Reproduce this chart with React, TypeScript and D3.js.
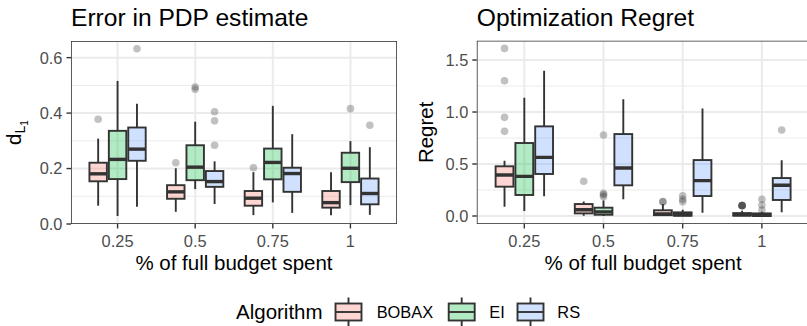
import React from "react";
import * as d3 from "d3";

// Budget levels (x categories) and algorithms (dodged groups)
const budgets = ["0.25", "0.5", "0.75", "1"];
const algorithms = ["BOBAX", "EI", "RS"];
const algColors = ["#F8766D", "#00BA38", "#619CFF"];

// Box summaries per budget: [lower whisker, Q1, median, Q3, upper whisker]
const pdpBOBAX = [
  [0.066, 0.154, 0.181, 0.221, 0.308],
  [0.044, 0.091, 0.116, 0.140, 0.201],
  [0.032, 0.066, 0.093, 0.119, 0.187],
  [0.032, 0.059, 0.077, 0.119, 0.187],
];
const pdpEI = [
  [0.029, 0.162, 0.233, 0.336, 0.516],
  [0.126, 0.158, 0.205, 0.284, 0.369],
  [0.078, 0.161, 0.222, 0.272, 0.426],
  [0.068, 0.151, 0.201, 0.257, 0.299],
];
const pdpRS = [
  [0.062, 0.228, 0.270, 0.348, 0.434],
  [0.072, 0.134, 0.153, 0.191, 0.226],
  [0.040, 0.116, 0.182, 0.203, 0.324],
  [0.033, 0.071, 0.110, 0.164, 0.277],
];
const pdpBOBAXOut = [[0.378], [0.221], [0.203], []];
const pdpEIOut = [[], [0.494, 0.486], [], [0.416]];
const pdpRSOut = [[0.632], [0.405, 0.372, 0.284], [], [0.356]];

const regretBOBAX = [
  [0.090, 0.282, 0.394, 0.478, 0.532],
  [0.003, 0.025, 0.060, 0.115, 0.140],
  [0.002, 0.008, 0.020, 0.055, 0.115],
  [0.000, 0.004, 0.012, 0.028, 0.050],
];
const regretEI = [
  [0.048, 0.202, 0.381, 0.702, 1.138],
  [0.000, 0.012, 0.040, 0.080, 0.150],
  [0.000, 0.003, 0.012, 0.035, 0.060],
  [0.000, 0.000, 0.006, 0.025, 0.040],
];
const regretRS = [
  [0.189, 0.404, 0.564, 0.862, 1.397],
  [0.161, 0.295, 0.462, 0.788, 1.122],
  [0.032, 0.192, 0.340, 0.538, 1.035],
  [0.036, 0.154, 0.295, 0.365, 0.535],
];
const regretBOBAXOut = [[1.612, 1.301, 0.949, 0.814], [0.334], [0.138, 0.136], [0.100, 0.101, 0.099, 0.102, 0.098]];
const regretEIOut = [[], [0.779, 0.218, 0.205, 0.186], [0.195, 0.160, 0.138], [0.161, 0.106, 0.058]];
const regretRSOut = [[], [], [], [0.827]];

const pdpTicks = [0, 0.2, 0.4, 0.6];
const pdpMinor = [0.1, 0.3, 0.5];
const regretTicks = [0, 0.5, 1.0, 1.5];
const regretMinor = [0.25, 0.75, 1.25];

const FONT = "'Liberation Sans', Arial, Helvetica, sans-serif";
const INK = "#333333";
const GRID = "#EBEBEB";
const TICK_TXT = "#4D4D4D";

type PanelProps = {
  x0: number;
  x1: number;
  y0: number;
  y1: number;
  domain: [number, number];
  ticks: number[];
  minor: number[];
  stats: number[][][];
  outliers: number[][][];
  title: string;
  yTitle: React.ReactNode;
  yTitleX: number;
};

function Panel(p: PanelProps) {
  const x = d3.scalePoint<string>().domain(budgets).range([p.x0, p.x1]).padding(0.6);
  const step = x.step();
  const y = d3.scaleLinear().domain(p.domain).range([p.y1, p.y0]);
  const dodge = d3
    .scalePoint<string>()
    .domain(algorithms)
    .range([-0.25 * step, 0.25 * step]);
  const bw = 0.225 * step;
  const fmt = d3.format(".1f");
  const clipId = `clip-${p.title.replace(/\s+/g, "")}`;

  return (
    <g>
      <defs>
        <clipPath id={clipId}>
          <rect x={p.x0} y={p.y0} width={p.x1 - p.x0} height={p.y1 - p.y0} />
        </clipPath>
      </defs>
      <text x={p.x0} y={26} fontSize={24.6} fontFamily={FONT} fill="#000">
        {p.title}
      </text>
      <g clipPath={`url(#${clipId})`}>
        <rect x={p.x0} y={p.y0} width={p.x1 - p.x0} height={p.y1 - p.y0} fill="#fff" />
        {p.minor.map((v) => (
          <line key={`mn${v}`} x1={p.x0} x2={p.x1} y1={y(v)} y2={y(v)} stroke={GRID} strokeWidth={1} />
        ))}
        {p.ticks.map((v) => (
          <line key={`mj${v}`} x1={p.x0} x2={p.x1} y1={y(v)} y2={y(v)} stroke={GRID} strokeWidth={2} />
        ))}
        {budgets.map((b) => (
          <line key={`vx${b}`} x1={x(b)} x2={x(b)} y1={p.y0} y2={p.y1} stroke={GRID} strokeWidth={2} />
        ))}
        {algorithms.map((a, ai) =>
          budgets.map((b, bi) => {
            const [lo, q1, med, q3, hi] = p.stats[ai][bi];
            const cx = (x(b) as number) + (dodge(a) as number);
            return (
              <g key={`${a}-${b}`}>
                <line x1={cx} x2={cx} y1={y(hi)} y2={y(q3)} stroke={INK} strokeWidth={1.9} />
                <line x1={cx} x2={cx} y1={y(q1)} y2={y(lo)} stroke={INK} strokeWidth={1.9} />
                <rect
                  x={cx - bw / 2}
                  y={y(q3)}
                  width={bw}
                  height={y(q1) - y(q3)}
                  fill={algColors[ai]}
                  fillOpacity={0.3}
                  stroke={INK}
                  strokeWidth={1.9}
                />
                <line
                  x1={cx - bw / 2}
                  x2={cx + bw / 2}
                  y1={y(med)}
                  y2={y(med)}
                  stroke={INK}
                  strokeWidth={3.4}
                />
                {p.outliers[ai][bi].map((o, oi) => (
                  <circle key={oi} cx={cx} cy={y(o)} r={3.8} fill={INK} fillOpacity={0.3} />
                ))}
              </g>
            );
          })
        )}
        <rect
          x={p.x0}
          y={p.y0}
          width={p.x1 - p.x0}
          height={p.y1 - p.y0}
          fill="none"
          stroke={INK}
          strokeWidth={1.6}
        />
      </g>
      {/* y axis */}
      {p.ticks.map((v) => (
        <g key={`yt${v}`}>
          <line x1={p.x0 - 4.5} x2={p.x0} y1={y(v)} y2={y(v)} stroke={INK} strokeWidth={1.4} />
          <text
            x={p.x0 - 8.5}
            y={y(v)}
            dy="0.36em"
            textAnchor="end"
            fontSize={16.4}
            fontFamily={FONT}
            fill={TICK_TXT}
          >
            {fmt(v)}
          </text>
        </g>
      ))}
      {/* x axis */}
      {budgets.map((b) => (
        <g key={`xt${b}`}>
          <line x1={x(b)} x2={x(b)} y1={p.y1} y2={p.y1 + 4.5} stroke={INK} strokeWidth={1.4} />
          <text
            x={x(b)}
            y={247}
            textAnchor="middle"
            fontSize={16.4}
            fontFamily={FONT}
            fill={TICK_TXT}
          >
            {b}
          </text>
        </g>
      ))}
      <text
        x={(p.x0 + p.x1) / 2}
        y={269.5}
        textAnchor="middle"
        fontSize={20.5}
        fontFamily={FONT}
        fill="#000"
      >
        % of full budget spent
      </text>
      <text
        transform={`translate(${p.yTitleX},${(p.y0 + p.y1) / 2}) rotate(-90)`}
        textAnchor="middle"
        fontSize={20.5}
        fontFamily={FONT}
        fill="#000"
      >
        {p.yTitle}
      </text>
    </g>
  );
}

function LegendKey({ cx, color }: { cx: number; color: string }) {
  const w = 26;
  const top = 303.5;
  const bot = 320.5;
  return (
    <g>
      <line x1={cx} x2={cx} y1={297.5} y2={top} stroke={INK} strokeWidth={1.9} />
      <line x1={cx} x2={cx} y1={bot} y2={327} stroke={INK} strokeWidth={1.9} />
      <rect
        x={cx - w / 2}
        y={top}
        width={w}
        height={bot - top}
        fill={color}
        fillOpacity={0.3}
        stroke={INK}
        strokeWidth={1.9}
      />
      <line x1={cx - w / 2} x2={cx + w / 2} y1={312} y2={312} stroke={INK} strokeWidth={1.9} />
    </g>
  );
}

export default function App() {
  const pdpStats = [pdpBOBAX, pdpEI, pdpRS];
  const pdpOut = [pdpBOBAXOut, pdpEIOut, pdpRSOut];
  const regStats = [regretBOBAX, regretEI, regretRS];
  const regOut = [regretBOBAXOut, regretEIOut, regretRSOut];

  const legendKeys = [348.5, 461.7, 530.5];
  const legendLabels = [376.7, 489.3, 557.3];

  return (
    <svg
      width={807}
      height={326}
      style={{ position: "fixed", left: 0, top: 0, background: "#fff" }}
    >
      <rect width={807} height={326} fill="#fff" />
      <Panel
        x0={71}
        x1={397}
        y0={41}
        y1={224}
        domain={[0, 0.66]}
        ticks={pdpTicks}
        minor={pdpMinor}
        stats={pdpStats}
        outliers={pdpOut}
        title="Error in PDP estimate"
        yTitleX={21}
        yTitle={
          <>
            <tspan>d</tspan>
            <tspan fontSize={14} dy={4}>L</tspan>
            <tspan fontSize={10} dy={3}>1</tspan>
          </>
        }
      />
      <Panel
        x0={476.8}
        x1={809.4}
        y0={40.7}
        y1={224}
        domain={[-0.077, 1.686]}
        ticks={regretTicks}
        minor={regretMinor}
        stats={regStats}
        outliers={regOut}
        title="Optimization Regret"
        yTitleX={433}
        yTitle="Regret"
      />
      <text x={236} y={319} fontSize={20.5} fontFamily={FONT} fill="#000">
        Algorithm
      </text>
      {algorithms.map((a, i) => (
        <g key={a}>
          <LegendKey cx={legendKeys[i]} color={algColors[i]} />
          <text x={legendLabels[i]} y={318} fontSize={16.4} fontFamily={FONT} fill="#000">
            {a}
          </text>
        </g>
      ))}
    </svg>
  );
}
